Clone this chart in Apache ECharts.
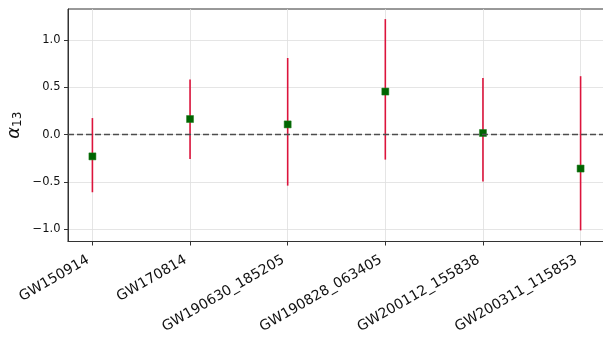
<!DOCTYPE html>
<html><head><meta charset="utf-8">
<script src="https://cdn.jsdelivr.net/npm/echarts@6/dist/echarts.min.js"></script>
<style>html,body{margin:0;padding:0;background:#fff}#c{width:603px;height:339px}</style>
</head><body><div id="c"></div>
<script>
var events = ['GW150914','GW170814','GW190630_185205','GW190828_063405','GW200112_155838','GW200311_115853'];
var centers = [-0.23, 0.166, 0.109, 0.457, 0.018, -0.359];
var lowers = [-0.61, -0.257, -0.54, -0.264, -0.496, -1.014];
var uppers = [0.176, 0.584, 0.813, 1.225, 0.60, 0.62];
var yTicks = [-1, -0.5, 0, 0.5, 1];

var idx = events.map(function(_, i){ return i; });
var chart = echarts.init(document.getElementById('c'), null, {renderer:'canvas'});
var font = 'DejaVu Sans';
chart.setOption({
  animation:false,
  backgroundColor:'#fff',
  grid:{left:68, top:9, width:537, height:232.5, show:true, borderColor:'#333', borderWidth:1, backgroundColor:'transparent',
    containLabel:false, outerBoundsMode:'none'},
  xAxis:{type:'value', min:-0.25, max:5.25,
    axisLine:{show:true, onZero:false, lineStyle:{color:'#333', width:1}},
    axisTick:{show:true, customValues:idx, length:4, lineStyle:{color:'#333'}},
    axisLabel:{customValues:idx, rotate:30, fontFamily:font, fontSize:14, color:'#111', margin:15, padding:[0,5,0,0],
      formatter:function(v){ return events[Math.round(v)]; }},
    splitLine:{show:true, lineStyle:{color:'#dedede', width:0.8}}
  },
  yAxis:{type:'value', min:-1.132, max:1.332,
    name:'{a|α}{s|13}', nameLocation:'middle', nameGap:44, nameRotate:90, nameMoveOverlap:false,
    nameTextStyle:{rich:{a:{fontFamily:font, fontStyle:'italic', fontSize:18, color:'#111'}, s:{fontFamily:font, fontSize:12, color:'#111', verticalAlign:'bottom', padding:[8,0,0,0]}}},
    axisLine:{show:true, onZero:false, lineStyle:{color:'#333', width:1}},
    axisTick:{show:true, customValues:yTicks, length:4, lineStyle:{color:'#333'}},
    axisLabel:{customValues:yTicks, fontFamily:font, fontSize:11.5, color:'#111', margin:7.5,
      formatter:function(v){ return (v<0?'\u2212':'') + Math.abs(v).toFixed(1); }},
    splitLine:{show:true, lineStyle:{color:'#dedede', width:0.8}}
  },
  series:[
    {type:'custom', z:3,
      data: idx.map(function(i){ return [i, lowers[i], uppers[i]]; }),
      renderItem:function(params, api){
        var a = api.coord([api.value(0), api.value(1)]);
        var b = api.coord([api.value(0), api.value(2)]);
        return {type:'line', shape:{x1:a[0], y1:a[1], x2:b[0], y2:b[1]}, style:{stroke:'#dc143c', lineWidth:1.6}};
      },
      markLine:{silent:true, symbol:'none', label:{show:false},
        lineStyle:{color:'#4d4d4d', type:[6,3], width:1.4},
        data:[{yAxis:0}]}
    },
    {type:'scatter', z:4, symbol:'rect', symbolSize:7,
      itemStyle:{color:'#006400', borderColor:'#1a7a1a', borderWidth:0.5, opacity:1},
      data: idx.map(function(i){ return [i, centers[i]]; })}
  ]
});
</script></body></html>
